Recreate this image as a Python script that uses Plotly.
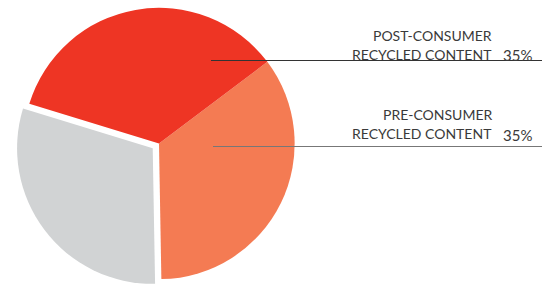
import plotly.graph_objects as go

labels = ["PRE-CONSUMER RECYCLED CONTENT", "OTHER", "POST-CONSUMER RECYCLED CONTENT"]
values = [35, 30, 35]
colors = ["#F47B53", "#D1D3D4", "#EE3524"]
pulls = [0, 0.058, 0]

label_lines = [["POST-CONSUMER", "RECYCLED CONTENT"], ["PRE-CONSUMER", "RECYCLED CONTENT"]]
label_pcts = ["35%", "35%"]

W, H = 553, 287

fig = go.Figure(go.Pie(
    labels=labels, values=values, sort=False, direction="clockwise",
    rotation=53, pull=pulls, marker=dict(colors=colors, line=dict(width=0)),
    textinfo="none", hoverinfo="label+percent", showlegend=False,
    domain=dict(x=[0, 2 * 159 / W], y=[0, 1]),
))

def py(p):
    return 1 - p / H

# label geometry (pixels): baseline line1, baseline line2, leader y, leader x start, leader colour
label_base = [(40.0, 59.5, 60.5, 211, "#333333"), (119.0, 138.5, 146.5, 213, "#777777")]
font = dict(family="Lato, Open Sans, sans-serif", size=14, color="#3a3a3a")
pct_font = dict(family="Lato, Open Sans, sans-serif", size=15, color="#3a3a3a")
for (b1, b2, ly, lx, lc), lines, pct in zip(label_base, label_lines, label_pcts):
    fig.add_shape(type="line", xref="paper", yref="paper",
                  x0=lx / W, x1=542 / W, y0=py(ly), y1=py(ly),
                  line=dict(color=lc, width=1))
    for txt, b in zip(lines, [b1, b2]):
        fig.add_annotation(text=txt, xref="paper", yref="paper", x=494 / W, y=py(b - 5),
                           xanchor="right", yanchor="middle", showarrow=False, font=font)
    fig.add_annotation(text=pct, xref="paper", yref="paper", x=501 / W, y=py(b2 - 4),
                       xanchor="left", yanchor="middle", showarrow=False, font=pct_font)

fig.update_layout(width=W, height=H, margin=dict(l=0, r=0, t=0, b=0),
                  paper_bgcolor="white", plot_bgcolor="white")
fig.write_html("out.html", config={"displayModeBar": False},
               post_script="document.body.style.margin='0';")
